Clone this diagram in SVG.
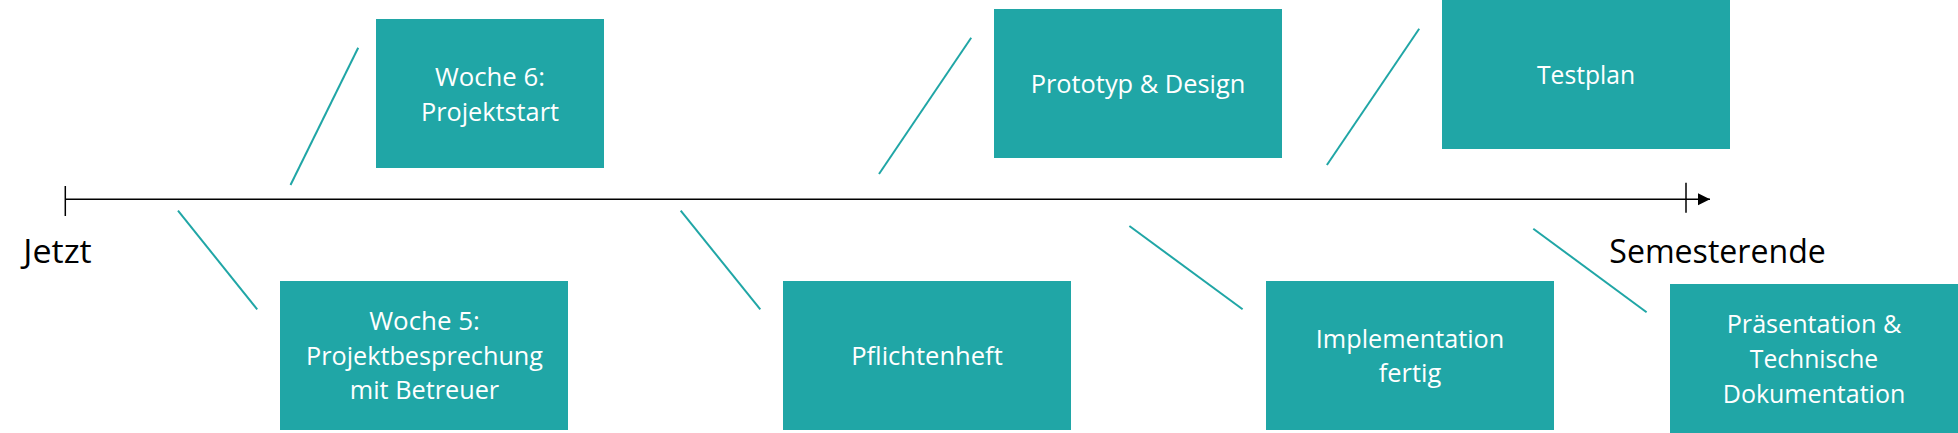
<svg xmlns="http://www.w3.org/2000/svg" width="1958" height="433" viewBox="0 0 1958 433">
  <defs>
    <marker id="arrow" markerUnits="userSpaceOnUse" markerWidth="14" markerHeight="14" refX="12" refY="6" orient="auto">
      <polygon points="0,0 12,6 0,12" fill="#000"/>
    </marker>
    <style>
      .box { fill: #20A6A6; }
      .bt { font-family: "Open Sans", "Noto Sans", sans-serif; font-size: 25px; fill: #ffffff; text-anchor: middle; }
      .lbl { font-family: "Open Sans", "Noto Sans", sans-serif; font-size: 32px; fill: #000000; }
      .conn { stroke: #20A6A6; stroke-width: 2; fill: none; }
      .axis { stroke: #000; stroke-width: 1.5; fill: none; }
    </style>
  </defs>
  <rect width="1958" height="433" fill="#ffffff"/>

  <g id="timeline">
    <line class="axis" x1="65" y1="199.3" x2="1710" y2="199.3" marker-end="url(#arrow)"/>
    <line class="axis" x1="65.3" y1="186" x2="65.3" y2="216"/>
    <line class="axis" x1="1686" y1="182.7" x2="1686" y2="212.7"/>
    <text class="lbl" x="23.3" y="263.3" textLength="68.4" lengthAdjust="spacingAndGlyphs">Jetzt</text>
    <text class="lbl" x="1609.3" y="263.3" textLength="216.5" lengthAdjust="spacingAndGlyphs">Semesterende</text>
  </g>

  <g id="connectors">
    <line class="conn" x1="290.5" y1="185" x2="358.2" y2="47.7"/>
    <line class="conn" x1="178" y1="210.7" x2="257.2" y2="309.3"/>
    <line class="conn" x1="879" y1="174" x2="971.2" y2="37.7"/>
    <line class="conn" x1="680.7" y1="210.7" x2="760.3" y2="309.3"/>
    <line class="conn" x1="1129.4" y1="226" x2="1242.6" y2="309.3"/>
    <line class="conn" x1="1326.9" y1="165" x2="1419.2" y2="28.7"/>
    <line class="conn" x1="1533.3" y1="228.7" x2="1646.6" y2="312.3"/>
  </g>

  <g id="woche6">
    <rect class="box" x="376" y="19" width="228" height="149"/>
    <text class="bt" x="490" y="86" textLength="110" lengthAdjust="spacingAndGlyphs">Woche 6:</text>
    <text class="bt" x="490" y="120.7" textLength="138" lengthAdjust="spacingAndGlyphs">Projektstart</text>
  </g>

  <g id="woche5">
    <rect class="box" x="280" y="281" width="288" height="149"/>
    <text class="bt" x="424.5" y="330" textLength="110.7" lengthAdjust="spacingAndGlyphs">Woche 5:</text>
    <text class="bt" x="424.5" y="365" textLength="237" lengthAdjust="spacingAndGlyphs">Projektbesprechung</text>
    <text class="bt" x="424.5" y="399.3" textLength="149.4" lengthAdjust="spacingAndGlyphs">mit Betreuer</text>
  </g>

  <g id="prototyp">
    <rect class="box" x="994" y="9" width="288" height="149"/>
    <text class="bt" x="1138" y="92.7" textLength="214.7" lengthAdjust="spacingAndGlyphs">Prototyp &amp; Design</text>
  </g>

  <g id="pflichtenheft">
    <rect class="box" x="783" y="281" width="288" height="149"/>
    <text class="bt" x="927" y="365" textLength="151.5" lengthAdjust="spacingAndGlyphs">Pflichtenheft</text>
  </g>

  <g id="testplan">
    <rect class="box" x="1442" y="0" width="288" height="149"/>
    <text class="bt" x="1586" y="84" textLength="98" lengthAdjust="spacingAndGlyphs">Testplan</text>
  </g>

  <g id="implementation">
    <rect class="box" x="1266" y="281" width="288" height="149"/>
    <text class="bt" x="1410" y="347.7" textLength="188.4" lengthAdjust="spacingAndGlyphs">Implementation</text>
    <text class="bt" x="1410" y="381.7" textLength="62.4" lengthAdjust="spacingAndGlyphs">fertig</text>
  </g>

  <g id="praesentation">
    <rect class="box" x="1670" y="284" width="288" height="149"/>
    <text class="bt" x="1814" y="332.7" textLength="174.5" lengthAdjust="spacingAndGlyphs">Präsentation &amp;</text>
    <text class="bt" x="1814" y="367.7" textLength="128.4" lengthAdjust="spacingAndGlyphs">Technische</text>
    <text class="bt" x="1814" y="402.7" textLength="182.5" lengthAdjust="spacingAndGlyphs">Dokumentation</text>
  </g>
</svg>
